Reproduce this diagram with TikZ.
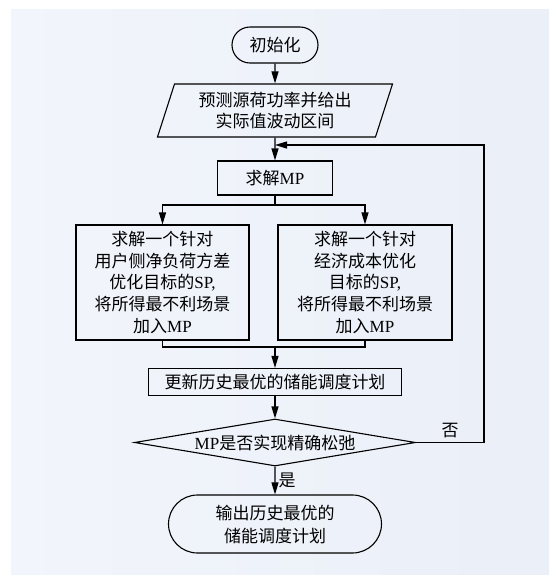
\documentclass[tikz,border=0pt]{standalone}
\usepackage{fontspec}
\usepackage{xcolor}
\setmainfont{Liberation Serif}
\newfontfamily\cjk{Noto Sans CJK SC}
\usetikzlibrary{shapes.geometric,shapes.misc,arrows.meta}
\definecolor{panelbg}{RGB}{234,239,248}
\definecolor{panellt}{RGB}{242,245,251}

\begin{document}
\begin{tikzpicture}[x=1pt, y=-1pt, line width=1.1pt,
    every node/.style={font=\cjk\fontsize{17}{21.7}\selectfont, align=center, inner sep=0pt},
    terminal/.style={draw, rounded rectangle},
    iobox/.style={draw, trapezium, trapezium left angle=65.6, trapezium right angle=114.4, trapezium stretches body},
    procbox/.style={draw, rectangle},
    decision/.style={draw, diamond},
    flow/.style={-{Triangle[length=12pt,width=7pt]}}]
    % Panel
    \useasboundingbox (0,0) rectangle (560,582);
    \shade[left color=panellt, right color=panelbg] (11,9) rectangle (549,574);
    % Steps
    \node[terminal, minimum width=86pt, minimum height=36pt] (init) at (275,45) {初始化};
    \node[iobox, minimum width=235pt, minimum height=53pt] (predict) at (275,110.5) {预测源荷功率并给出\\实际值波动区间};
    \node[procbox, minimum width=115pt, minimum height=34pt] (solve) at (275,178) {求解\textrm{MP}};
    \node[procbox, minimum width=173pt, minimum height=115pt] (spl) at (162.5,282.5)
        {求解一个针对\\用户侧净负荷方差\\优化目标的\textrm{SP,}\\将所得最不利场景\\加入\textrm{MP}};
    \node[procbox, minimum width=174pt, minimum height=115pt] (spr) at (365,282.5)
        {求解一个针对\\经济成本优化\\目标的\textrm{SP,}\\将所得最不利场景\\加入\textrm{MP}};
    \node[procbox, minimum width=253pt, minimum height=27pt] (update) at (275,382) {更新历史最优的储能调度计划};
    \node[decision, minimum width=281pt, minimum height=47pt] (check) at (275,442.5) {};
    \node (checktxt) at (check) {\textrm{MP}是否实现精确松弛};
    \node[terminal, minimum width=213pt, minimum height=58pt, font=\cjk\fontsize{17}{23}\selectfont] (output) at (275,524)
        {输出历史最优的\\储能调度计划};
    % Joints
    \coordinate (join) at (275,145);
    \coordinate (back) at (484,145);
    \coordinate (split) at (275,205);
    \coordinate (merge) at (275,347);
    % Arrows
    \draw[flow] (init) -- (predict);
    \draw[flow] (predict) -- (solve);
    \draw (solve) -- (split);
    \draw[flow] (split) -| (spl.north);
    \draw[flow] (split) -| (spr.north);
    \draw (spl.south) |- (merge);
    \draw (spr.south) |- (merge);
    \draw[flow] (merge) -- (update);
    \draw[flow] (update) -- (check);
    \draw[flow] (check) -- node[right=3pt] {是} (output);
    \draw[flow] (check.east) -| node[pos=0.25, above=4pt] {否} (back) -- (join);
\end{tikzpicture}
\end{document}
